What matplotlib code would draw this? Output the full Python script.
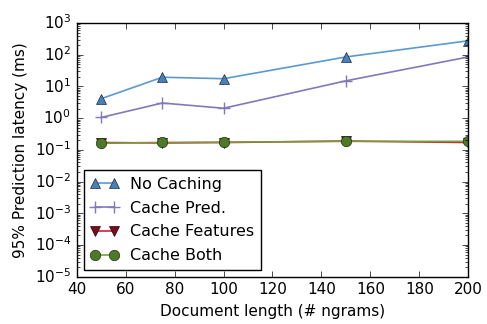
import matplotlib
matplotlib.use("Agg")
import matplotlib.pyplot as plt

# document length (# ngrams)
doc_len = [50, 75, 100, 150, 200]

# 95% prediction latency (ms)
no_caching = [4.1, 19.5, 17.5, 85, 275]
cache_pred = [1.05, 3.0, 2.05, 15, 85]
cache_features = [0.17, 0.165, 0.17, 0.19, 0.17]
cache_both = [0.16, 0.172, 0.175, 0.185, 0.185]

labels = ["No Caching", "Cache Pred.", "Cache Features", "Cache Both"]

plt.style.use("classic")
plt.rcParams["font.family"] = "DejaVu Sans"
plt.rcParams["font.size"] = 11

fig = plt.figure(figsize=(4.87, 3.24), dpi=100, facecolor="white")
ax = fig.add_axes([0.1575, 0.146, 0.804, 0.783])

ax.plot(doc_len, no_caching, color="#5a9ad0", lw=1.2, marker="^", ms=7.5,
        mfc="#4a80b8", mec="#1a2a40", label=labels[0])
ax.plot(doc_len, cache_pred, color="#8378b8", lw=1.2, marker="+", ms=8,
        mew=1.0, mec="#8378b8", label=labels[1])
ax.plot(doc_len, cache_features, color="#c0283a", lw=1.2, marker="v", ms=7.5,
        mfc="#7a0c1c", mec="#2a0008", label=labels[2])
ax.plot(doc_len, cache_both, color="#7a9c3c", lw=1.2, marker="o", ms=7.5,
        mfc="#4e7a28", mec="#1e3010", label=labels[3])

ax.set_yscale("log")
ax.set_ylim(1e-5, 1e3)
ax.set_xlim(40, 200)
ax.set_xticks([40, 60, 80, 100, 120, 140, 160, 180, 200])
ax.set_xlabel("Document length (# ngrams)")
ax.set_ylabel("95% Prediction latency (ms)")

leg = ax.legend(loc="lower left", numpoints=2, fontsize=11.5, frameon=True,
                fancybox=False, handlelength=1.8, borderpad=0.4,
                labelspacing=0.55, handletextpad=0.7,
                borderaxespad=0.45)
leg.get_frame().set_edgecolor("black")

fig.savefig("out.png", dpi=100, facecolor="white")
